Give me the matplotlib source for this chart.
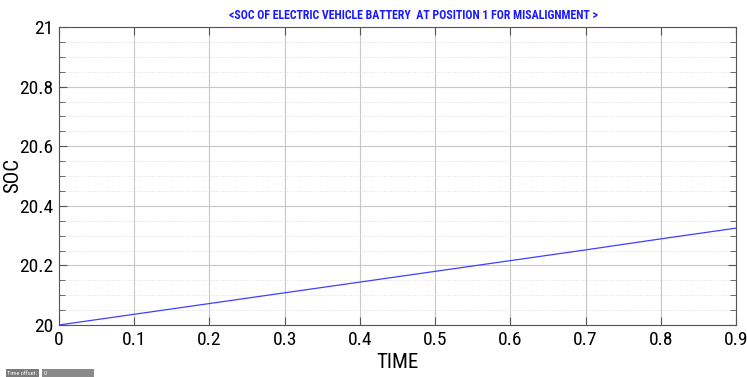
import numpy as np
import matplotlib.pyplot as plt
from matplotlib.ticker import MultipleLocator

plt.rcParams['font.family'] = ['Roboto Condensed', 'Liberation Sans', 'DejaVu Sans']

# data
time = [0.0, 0.1, 0.2, 0.3, 0.4, 0.5, 0.6, 0.7, 0.8, 0.9]
soc = [20.0, 20.036, 20.072, 20.108, 20.144, 20.180, 20.216, 20.252, 20.289, 20.325]

xticks = [0, 0.1, 0.2, 0.3, 0.4, 0.5, 0.6, 0.7, 0.8, 0.9]
yticks = [20, 20.2, 20.4, 20.6, 20.8, 21]
title = '<SOC OF ELECTRIC VEHICLE BATTERY  AT POSITION 1 FOR MISALIGNMENT >'

fig = plt.figure(figsize=(7.47, 3.77), dpi=100)
ax = fig.add_axes([59/747, 1-325/377, 677/747, 298/377])

ax.plot(time, soc, color='#4040ff', lw=0.9)
ax.set_xlim(0, 0.9)
ax.set_ylim(20, 21)
ax.set_xticks(xticks)
ax.set_xticklabels(['0', '0.1', '0.2', '0.3', '0.4', '0.5', '0.6', '0.7', '0.8', '0.9'])
ax.set_yticks(yticks)
ax.set_yticklabels(['20', '20.2', '20.4', '20.6', '20.8', '21'])
ax.yaxis.set_minor_locator(MultipleLocator(0.05))

ax.grid(True, which='major', color='#c8c8c8', lw=0.8)
ax.grid(True, which='minor', axis='y', color='#d8d8d8', lw=0.6, ls=':')
ax.tick_params(which='both', direction='in', top=True, right=True, labelsize=14, color='#555555')
ax.tick_params(which='major', length=6, pad=4)
ax.tick_params(which='minor', length=4)
for s in ax.spines.values():
    s.set_color('#555555')

ax.set_xlabel('TIME', fontsize=15, labelpad=3)
ax.set_ylabel('SOC', fontsize=15, va='center')
ax.yaxis.set_label_coords(-0.069, 0.5)
ax.set_title(title, fontsize=8.6, color='#1a1aff', fontweight='bold', pad=6, x=0.524)

fig.text(0.010, 0.006, 'Time offset:', fontsize=4.5, color='white',
         bbox=dict(facecolor='#7a7a7a', edgecolor='none', pad=1.2))
fig.text(0.059, 0.006, '0                                 ', fontsize=4.5, color='white',
         bbox=dict(facecolor='#8a8a8a', edgecolor='none', pad=1.2))

fig.savefig('out.png', dpi=100)
